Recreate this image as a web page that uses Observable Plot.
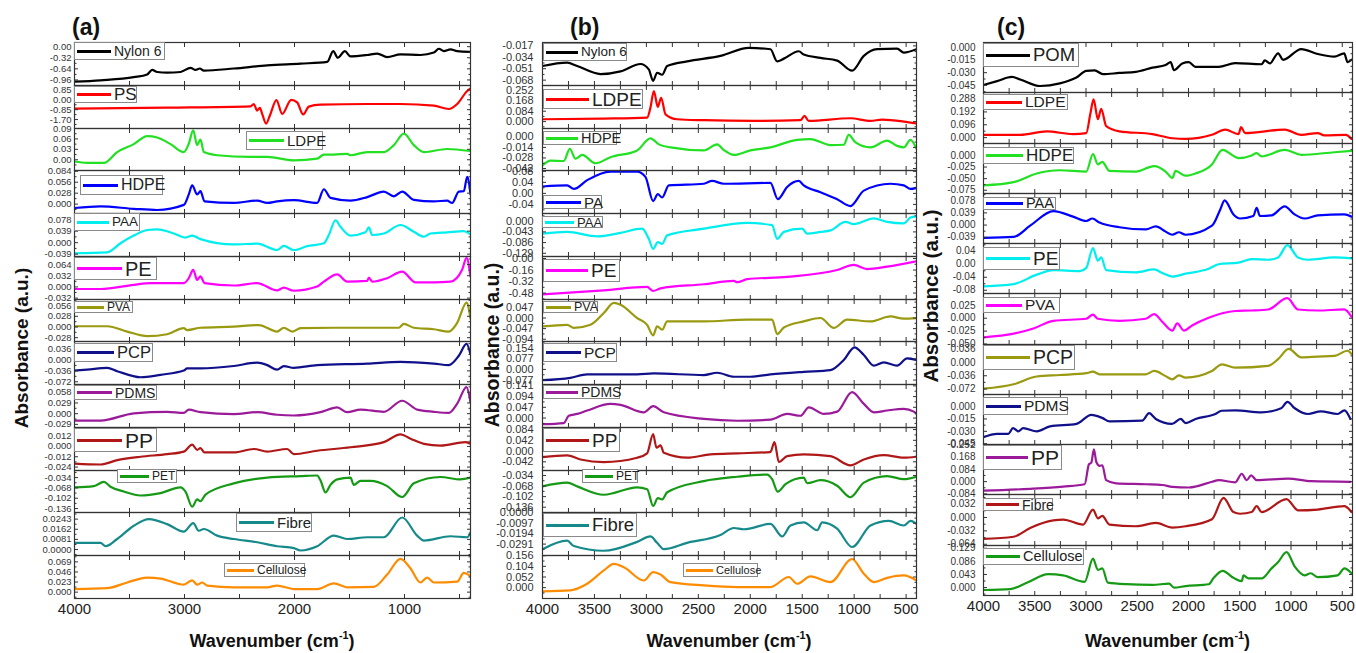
<!DOCTYPE html>
<html><head><meta charset="utf-8">
<script src="https://cdn.jsdelivr.net/npm/d3@7"></script>
<script src="https://cdn.jsdelivr.net/npm/@observablehq/plot@0.6"></script>
<style>
html,body{margin:0;padding:0;background:#fff;}
#fig{position:relative;width:1356px;height:653px;overflow:hidden;font-family:"Liberation Sans",Arial,sans-serif;background:#fff;}
#fig svg{position:absolute;overflow:visible;background:transparent;}
.lg{position:absolute;box-sizing:border-box;border:1px solid #8a8a8a;background:#fff;display:flex;align-items:center;padding-left:2px;gap:3px;white-space:nowrap;color:#222;line-height:1;}
.lg i{display:block;height:3px;flex:none;}
.ttl{position:absolute;font-weight:bold;color:#111;white-space:nowrap;}
.ttl sup{font-size:0.6em;vertical-align:0.7em;line-height:0;}
</style></head><body><div id="fig"></div><script>
// ---------- Panel (a) spectra: [wavenumber, absorbance] ----------
const aNylon6 = [[4000,-1.01],[3764,-0.97],[3461,-0.88],[3339,-0.80],[3294,-0.67],[3248,-0.73],[3158,-0.75],[3036,-0.73],[2945,-0.61],[2900,-0.67],[2861,-0.63],[2824,-0.69],[2552,-0.63],[2248,-0.54],[1945,-0.49],[1703,-0.44],[1648,-0.13],[1606,-0.32],[1542,-0.13],[1491,-0.28],[1339,-0.24],[1248,-0.20],[1158,-0.30],[1036,-0.22],[855,-0.24],[733,-0.17],[688,-0.06],[642,-0.13],[582,-0.08],[521,-0.13],[400,-0.15]];
const aPS = [[4000,-0.76],[3158,-0.67],[2400,-0.56],[2370,-0.36],[2339,-0.93],[2315,-0.70],[2294,-1.21],[2258,-2.05],[2224,-1.35],[2164,-0.03],[2112,-1.21],[2030,0.00],[1976,-0.22],[1921,-1.26],[1870,-0.59],[1764,-0.42],[1339,-0.36],[1036,-0.36],[733,-0.50],[597,-0.79],[521,-0.36],[430,0.76],[400,0.98]];
const aLDPE = [[4000,-0.005],[3885,-0.009],[3733,-0.009],[3612,0.022],[3461,0.045],[3339,0.068],[3248,0.064],[3127,0.045],[3006,0.022],[2961,0.046],[2921,0.085],[2885,0.042],[2855,0.058],[2824,0.022],[2703,0.013],[2400,0.008],[2248,0.008],[2006,-0.002],[1794,0.003],[1733,0.015],[1642,0.015],[1521,0.017],[1491,0.013],[1339,0.022],[1188,0.022],[1097,0.042],[1006,0.075],[915,0.042],[824,0.022],[612,0.031],[400,0.025]];
const aHDPE = [[4000,-0.010],[3764,-0.006],[3461,-0.012],[3248,-0.015],[3006,-0.002],[2961,0.025],[2930,0.048],[2885,0.025],[2855,0.033],[2818,0.007],[2552,0.003],[2339,0.009],[2248,0.003],[2158,0.007],[2006,0.010],[1794,0.003],[1733,0.038],[1673,0.016],[1491,0.009],[1339,0.018],[1188,0.032],[1097,0.020],[1021,0.032],[915,0.011],[733,0.007],[612,0.009],[567,0.003],[506,0.032],[461,0.033],[430,0.070],[400,0.025]];
const aPAA = [[4000,-0.036],[3703,-0.033],[3582,-0.002],[3461,0.024],[3339,0.043],[3248,0.045],[3097,0.031],[2991,0.017],[2930,0.024],[2855,0.012],[2552,-0.006],[2339,-0.003],[2158,-0.025],[2097,-0.011],[2006,-0.025],[1885,-0.012],[1733,-0.002],[1688,0.026],[1627,0.076],[1582,0.054],[1491,0.024],[1355,0.035],[1324,0.052],[1294,0.026],[1188,0.031],[1036,0.060],[915,0.037],[824,0.020],[764,0.031],[612,0.035],[461,0.039],[400,0.028]];
const aPE = [[4000,-0.006],[3764,-0.006],[3461,0.006],[3309,0.011],[3006,0.011],[2961,0.025],[2921,0.049],[2885,0.020],[2855,0.030],[2818,0.011],[2552,0.004],[2339,0.011],[2158,-0.010],[2097,-0.002],[2006,-0.011],[1794,0.001],[1733,0.015],[1612,0.036],[1521,0.015],[1339,0.017],[1324,0.027],[1294,0.015],[1158,0.025],[1021,0.044],[900,0.013],[733,0.013],[582,0.015],[476,0.049],[436,0.083],[400,0.030]];
const aPVA = [[4000,0.002],[3703,0.002],[3521,-0.012],[3339,-0.024],[3158,-0.019],[3006,-0.003],[2976,-0.008],[2855,-0.002],[2552,0.001],[2324,0.005],[2158,-0.012],[2097,-0.002],[2021,-0.012],[1945,-0.003],[1642,-0.002],[1339,-0.002],[1052,-0.002],[1006,0.008],[915,-0.002],[733,-0.006],[597,-0.012],[521,0.011],[436,0.064],[400,0.022]];
const aPCP = [[4000,-0.035],[3885,-0.032],[3703,-0.026],[3612,-0.037],[3400,-0.057],[3218,-0.049],[3006,-0.035],[2976,-0.028],[2855,-0.028],[2552,-0.020],[2339,-0.009],[2248,-0.017],[2158,-0.032],[2097,-0.020],[2006,-0.026],[1794,-0.017],[1339,-0.012],[1036,-0.006],[733,-0.012],[597,-0.017],[506,0.014],[436,0.053],[400,0.019]];
const aPDMS = [[4000,-0.019],[3764,-0.019],[3461,0.001],[3158,0.005],[3006,0.002],[2961,0.011],[2855,0.004],[2552,-0.001],[2339,0.004],[2158,-0.003],[2006,-0.005],[1764,0.004],[1612,0.017],[1521,0.004],[1400,0.011],[1188,0.005],[1021,0.035],[885,0.011],[733,0.005],[597,0.002],[521,0.027],[436,0.072],[400,0.031]];
const aPP = [[4000,-0.020],[3764,-0.021],[3612,-0.016],[3400,-0.012],[3158,-0.009],[3006,-0.006],[2930,0.002],[2885,-0.004],[2855,-0.002],[2818,-0.007],[2552,-0.007],[2370,-0.003],[2248,-0.006],[2067,-0.003],[2006,-0.009],[1794,-0.005],[1491,-0.001],[1188,0.005],[1036,0.014],[945,0.009],[824,0.003],[673,0.001],[445,0.005],[400,0.003]];
const aPET = [[4000,-0.066],[3824,-0.062],[3733,-0.048],[3673,-0.064],[3552,-0.080],[3400,-0.093],[3218,-0.085],[3036,-0.066],[2991,-0.080],[2930,-0.130],[2885,-0.106],[2855,-0.112],[2809,-0.090],[2552,-0.053],[2248,-0.034],[1945,-0.029],[1794,-0.027],[1764,-0.043],[1718,-0.083],[1673,-0.058],[1612,-0.040],[1491,-0.034],[1461,-0.058],[1400,-0.045],[1309,-0.045],[1158,-0.062],[1021,-0.098],[915,-0.053],[673,-0.032],[491,-0.040],[400,-0.034]];
const aFibre = [[4000,0.0053],[3764,0.0053],[3718,0.0026],[3612,0.0084],[3461,0.019],[3324,0.0243],[3158,0.0203],[3006,0.0143],[2921,0.0211],[2870,0.0150],[2824,0.0164],[2703,0.0111],[2552,0.0084],[2339,0.0058],[2158,0.0026],[2006,0.0011],[1945,-0.0008],[1794,0.0026],[1642,0.0111],[1521,0.0084],[1339,0.0098],[1188,0.0098],[1021,0.0256],[885,0.0111],[824,0.0071],[582,0.0106],[430,0.0098],[400,0.0137]];
const aCellulose = [[4000,0.007],[3703,0.009],[3521,0.022],[3339,0.033],[3218,0.031],[3006,0.017],[2930,0.027],[2885,0.017],[2839,0.022],[2794,0.015],[2552,0.011],[2248,0.011],[2158,0.015],[2006,0.007],[1794,0.007],[1642,0.020],[1521,0.011],[1279,0.012],[1158,0.040],[1036,0.076],[945,0.054],[855,0.022],[794,0.033],[733,0.022],[521,0.024],[461,0.044],[400,0.036]];

// ---------- Panel (b) spectra ----------
const bNylon6 = [[4000,-0.047],[3763,-0.042],[3666,-0.047],[3442,-0.059],[3249,-0.055],[3057,-0.044],[2977,-0.052],[2935,-0.069],[2897,-0.057],[2848,-0.060],[2800,-0.047],[2608,-0.040],[2287,-0.032],[2014,-0.020],[1806,-0.022],[1741,-0.040],[1677,-0.036],[1533,-0.025],[1485,-0.030],[1324,-0.035],[1164,-0.039],[1020,-0.054],[907,-0.032],[779,-0.022],[587,-0.021],[522,-0.027],[400,-0.022]];
const bLDPE = [[4000,0.019],[3410,0.024],[2993,0.032],[2961,0.113],[2928,0.247],[2890,0.118],[2858,0.193],[2816,0.059],[2704,0.019],[2447,0.011],[1966,0.005],[1517,0.011],[1478,0.046],[1437,0.005],[1036,0.027],[843,0.005],[731,0.016],[522,0.000],[400,-0.016]];
const bHDPE = [[4000,-0.038],[3923,-0.0315],[3795,-0.032],[3737,-0.016],[3682,-0.029],[3618,-0.024],[3490,-0.035],[3346,-0.027],[3089,-0.018],[2961,-0.002],[2880,-0.010],[2768,-0.014],[2447,-0.018],[2319,-0.010],[2255,-0.0175],[2158,-0.024],[1998,-0.018],[1806,-0.014],[1549,-0.004],[1421,-0.003],[1228,-0.011],[1100,-0.0105],[1052,0.0026],[987,-0.0074],[843,-0.014],[683,-0.005],[587,-0.012],[522,-0.014],[458,-0.004],[400,-0.016]];
const bPA = [[4000,0.025],[3763,0.029],[3698,0.016],[3570,0.048],[3346,0.079],[3089,0.079],[3009,0.060],[2935,-0.028],[2890,-0.003],[2848,-0.015],[2784,0.029],[2447,0.035],[2367,0.045],[2255,0.035],[1806,0.038],[1735,-0.021],[1645,0.023],[1533,0.045],[1485,0.029],[1324,0.004],[1164,-0.021],[1036,-0.046],[907,0.010],[651,0.035],[522,0.029],[458,0.016],[400,0.020]];
const bPAA = [[4000,-0.050],[3763,-0.043],[3474,-0.061],[3249,-0.047],[3041,-0.030],[2977,-0.071],[2935,-0.111],[2890,-0.084],[2848,-0.091],[2800,-0.057],[2447,-0.030],[2030,-0.007],[1790,-0.016],[1741,-0.071],[1677,-0.043],[1501,-0.030],[1453,-0.050],[1324,-0.043],[1228,-0.037],[1084,-0.003],[1004,-0.012],[811,0.011],[683,-0.003],[522,-0.009],[458,0.015],[400,0.020]];
const bPE = [[4000,-0.498],[3410,-0.442],[2993,-0.395],[2935,-0.451],[2864,-0.414],[2447,-0.357],[2158,-0.310],[2126,-0.329],[2030,-0.287],[1645,-0.254],[1164,-0.160],[1004,-0.089],[875,-0.146],[683,-0.113],[400,-0.038]];
const bPVA = [[4000,-0.037],[3763,-0.030],[3698,-0.044],[3538,-0.030],[3410,0.022],[3313,0.067],[3249,0.059],[3089,0.000],[2993,-0.030],[2935,-0.077],[2897,-0.037],[2848,-0.052],[2800,-0.015],[2447,-0.015],[2030,-0.007],[1790,-0.007],[1741,-0.071],[1677,-0.042],[1485,-0.015],[1324,0.000],[1196,-0.044],[1068,-0.007],[843,-0.015],[651,0.007],[522,-0.003],[400,0.000]];
const bPCP = [[4000,-0.078],[3731,-0.061],[3570,-0.036],[3089,-0.036],[2928,-0.029],[2447,-0.041],[2319,-0.024],[2158,-0.053],[1998,-0.053],[1806,-0.036],[1485,-0.017],[1228,-0.005],[1100,0.068],[997,0.160],[907,0.104],[811,0.027],[715,0.051],[587,0.027],[490,0.080],[400,0.068]];
const bPDMS = [[4000,-0.027],[3795,-0.022],[3747,0.010],[3666,0.018],[3570,0.033],[3346,0.062],[3249,0.058],[3025,0.025],[2935,0.052],[2832,0.025],[2447,-0.004],[2126,-0.012],[1806,-0.007],[1645,0.018],[1517,0.010],[1437,0.047],[1292,0.018],[1164,0.028],[1020,0.114],[907,0.062],[811,0.025],[683,0.033],[522,0.040],[426,0.028],[400,0.018]];
const bPP = [[4000,-0.024],[3763,-0.017],[3634,-0.033],[3410,-0.043],[3089,-0.026],[2993,-0.009],[2935,0.066],[2903,0.013],[2864,0.022],[2832,-0.007],[2608,-0.026],[2383,-0.013],[2126,-0.009],[1806,-0.004],[1767,0.035],[1725,-0.043],[1645,-0.020],[1485,-0.013],[1228,-0.020],[1036,-0.056],[907,-0.033],[715,-0.016],[522,-0.026],[400,-0.022]];
const bPET = [[4000,-0.069],[3763,-0.057],[3666,-0.069],[3410,-0.096],[3089,-0.072],[2993,-0.078],[2935,-0.132],[2890,-0.107],[2848,-0.111],[2800,-0.088],[2447,-0.052],[2126,-0.038],[1838,-0.031],[1790,-0.046],[1735,-0.086],[1661,-0.062],[1485,-0.041],[1453,-0.059],[1324,-0.049],[1164,-0.067],[1036,-0.104],[907,-0.057],[683,-0.036],[522,-0.046],[400,-0.038]];
const bFibre = [[4000,-0.0338],[3763,-0.0259],[3698,-0.0309],[3410,-0.0353],[3089,-0.0270],[2961,-0.0220],[2897,-0.0279],[2832,-0.0338],[2608,-0.0279],[2287,-0.0206],[2158,-0.0141],[2062,-0.0153],[1806,-0.0103],[1693,-0.0220],[1613,-0.0118],[1485,-0.0088],[1356,-0.0162],[1308,-0.0088],[1164,-0.0147],[1020,-0.0318],[843,-0.0118],[667,-0.0074],[522,-0.0118],[458,-0.0074],[400,-0.0103]];
const bCellulose = [[4000,-0.018],[3731,-0.013],[3570,0.019],[3410,0.084],[3313,0.116],[3217,0.100],[3025,0.035],[2935,0.076],[2864,0.064],[2768,0.027],[2447,0.011],[2126,0.003],[1806,0.003],[1629,0.052],[1549,0.019],[1421,0.055],[1228,0.027],[1020,0.140],[907,0.068],[811,0.027],[683,0.048],[522,0.060],[400,0.035]];

// ---------- Panel (c) spectra ----------
const cPOM = [[4000,-0.0446],[3868,-0.040],[3723,-0.035],[3642,-0.038],[3448,-0.0458],[3255,-0.0427],[3094,-0.0357],[2997,-0.0279],[2916,-0.0272],[2835,-0.0318],[2674,-0.0303],[2513,-0.029],[2352,-0.024],[2223,-0.021],[2174,-0.0175],[2142,-0.027],[2061,-0.019],[1997,-0.0175],[1932,-0.023],[1706,-0.023],[1545,-0.0186],[1287,-0.020],[1255,-0.0155],[1206,-0.019],[1126,-0.007],[1077,-0.0147],[900,-0.002],[739,-0.0078],[577,-0.0109],[481,-0.007],[448,-0.0175],[410,-0.0147]];
const cLDPE = [[4000,0.021],[3642,0.021],[3384,0.047],[3126,0.026],[2997,0.034],[2958,0.176],[2926,0.285],[2884,0.138],[2852,0.215],[2803,0.086],[2674,0.047],[2352,0.026],[2158,-0.005],[2029,-0.010],[1771,0.021],[1642,0.060],[1513,0.026],[1487,0.078],[1448,0.034],[1061,0.060],[900,0.021],[739,0.034],[674,0.016],[465,0.021],[410,-0.010]];
const cHDPE = [[4000,-0.0646],[3706,-0.0576],[3481,-0.0389],[3255,-0.0319],[2997,-0.0347],[2932,0.0028],[2884,-0.0194],[2842,-0.0139],[2771,-0.0333],[2513,-0.0347],[2335,-0.0229],[2223,-0.0347],[2158,-0.0486],[2126,-0.0333],[2029,-0.0437],[1932,-0.0389],[1771,-0.0194],[1668,0.0118],[1513,-0.0056],[1384,0.000],[1335,0.0049],[1287,-0.002],[1061,0.0118],[900,0.0014],[577,0.0069],[410,0.0097]];
const cPAA = [[4000,-0.041],[3706,-0.038],[3545,-0.002],[3319,0.0445],[3126,0.027],[2997,0.013],[2939,0.021],[2868,0.008],[2674,-0.007],[2416,-0.014],[2319,-0.004],[2223,-0.021],[2158,-0.031],[2094,-0.023],[2029,-0.031],[1771,-0.002],[1690,0.050],[1648,0.079],[1561,0.034],[1497,0.021],[1368,0.029],[1335,0.055],[1303,0.029],[1190,0.031],[1061,0.060],[965,0.034],[868,0.021],[739,0.031],[481,0.034],[410,0.027]];
const cPE = [[4000,-0.068],[3706,-0.061],[3481,-0.032],[3319,-0.018],[3061,-0.021],[2997,-0.011],[2932,0.050],[2884,0.011],[2852,0.021],[2803,-0.018],[2513,-0.025],[2335,-0.016],[2255,-0.027],[2158,-0.038],[2029,-0.029],[1803,-0.014],[1706,0.000],[1513,0.005],[1384,0.016],[1223,0.014],[1126,0.021],[1035,0.059],[932,0.021],[835,0.014],[577,0.021],[410,0.018]];
const cPVA = [[4000,-0.037],[3706,-0.030],[3513,-0.020],[3319,-0.005],[2997,-0.001],[2932,0.007],[2884,-0.001],[2674,-0.005],[2416,-0.001],[2335,0.008],[2255,-0.007],[2158,-0.024],[2110,-0.010],[2045,-0.024],[1965,-0.014],[1803,0.001],[1545,0.014],[1384,0.015],[1223,0.017],[1035,0.039],[932,0.017],[739,0.015],[481,0.017],[410,0.003]];
const cPCP = [[4000,-0.071],[3706,-0.059],[3481,-0.038],[3255,-0.034],[2997,-0.029],[2932,-0.025],[2868,-0.032],[2416,-0.032],[2335,-0.023],[2223,-0.037],[2158,-0.046],[2094,-0.035],[2029,-0.041],[1771,-0.023],[1674,-0.005],[1545,-0.014],[1223,-0.009],[1126,0.009],[1023,0.037],[900,0.014],[739,0.016],[577,0.018],[448,0.032],[410,0.023]];
const cPDMS = [[4000,-0.037],[3867,-0.033],[3758,-0.033],[3712,-0.026],[3661,-0.030],[3613,-0.026],[3480,-0.030],[3351,-0.024],[3093,-0.021],[2948,-0.010],[2838,-0.014],[2771,-0.018],[2451,-0.017],[2384,-0.008],[2319,-0.015],[2161,-0.021],[2076,-0.015],[2028,-0.020],[1931,-0.015],[1738,-0.009],[1677,-0.005],[1544,-0.0045],[1289,-0.007],[1096,-0.002],[1035,0.0057],[963,-0.002],[834,-0.009],[710,-0.0057],[545,-0.009],[479,-0.0045],[420,-0.015]];
const cPP = [[4000,-0.062],[3545,-0.049],[3223,-0.034],[3013,-0.018],[2971,0.119],[2948,0.130],[2923,0.221],[2899,0.134],[2867,0.108],[2841,0.112],[2803,0.010],[2706,-0.012],[2415,-0.018],[2255,-0.023],[2158,-0.036],[1996,-0.040],[1771,-0.001],[1706,0.010],[1544,-0.005],[1480,0.054],[1432,0.010],[1389,0.043],[1335,0.010],[1028,0.021],[802,0.003],[420,-0.001]];
const cFibre = [[4000,-0.051],[3707,-0.046],[3545,-0.025],[3319,-0.007],[3223,-0.005],[3029,-0.017],[2932,0.019],[2884,-0.002],[2841,0.004],[2771,-0.017],[2512,-0.021],[2319,-0.013],[2158,-0.024],[2028,-0.021],[1771,-0.004],[1658,0.047],[1562,0.013],[1496,0.009],[1383,0.013],[1335,0.027],[1287,0.013],[1044,0.044],[931,0.017],[738,0.019],[479,0.027],[410,0.013]];
const cCellulose = [[4000,-0.008],[3739,-0.005],[3577,0.016],[3368,0.044],[3223,0.040],[3013,0.019],[2932,0.095],[2884,0.058],[2841,0.063],[2787,0.016],[2609,0.011],[2351,0.009],[2190,0.013],[2141,0.000],[2028,0.005],[1802,0.011],[1754,0.032],[1667,0.055],[1562,0.032],[1480,0.021],[1464,0.040],[1415,0.030],[1287,0.030],[1190,0.063],[1125,0.084],[1044,0.116],[963,0.069],[866,0.040],[808,0.047],[738,0.034],[545,0.040],[479,0.063],[410,0.047]];

// ---------- names, y tick labels, y domains ----------
const aNames = ["Nylon 6","PS","LDPE","HDPE","PAA","PE","PVA","PCP","PDMS","PP","PET","Fibre","Cellulose"];
const bNames = ["Nylon 6","LDPE","HDPE","PA","PAA","PE","PVA","PCP","PDMS","PP","PET","Fibre","Cellulose"];
const cNames = ["POM","LDPE","HDPE","PAA","PE","PVA","PCP","PDMS","PP","Fibre","Cellulose"];

const aTickLabels = [["0.00","-0.32","-0.64","-0.96"],["0.85","0.00","-0.85","-1.70"],["0.09","0.06","0.03","0.00"],["0.084","0.056","0.028","0.000"],["0.078","0.039","0.000","-0.039"],["0.064","0.032","0.000","-0.032"],["0.056","0.028","0.000","-0.028"],["0.036","0.000","-0.036","-0.072"],["0.058","0.029","0.000","-0.029"],["0.012","0.000","-0.012","-0.024"],["-0.034","-0.068","-0.102","-0.136"],["0.0243","0.0162","0.0081","0.0000"],["0.069","0.046","0.023","0.000"]];
const bTickLabels = [["-0.017","-0.034","-0.051","-0.068"],["0.252","0.168","0.084","0.000"],["0.000","-0.014","-0.028","-0.042"],["0.08","0.04","0.00","-0.04"],["0.000","-0.043","-0.086","-0.129"],["0.00","-0.16","-0.32","-0.48"],["0.047","0.000","-0.047","-0.094"],["0.154","0.077","0.000","-0.077"],["0.141","0.094","0.047","0.000"],["0.084","0.042","0.000","-0.042"],["-0.034","-0.068","-0.102","-0.136"],["0.0000","-0.0097","-0.0194","-0.0291"],["0.156","0.104","0.052","0.000"]];
const cTickLabels = [["0.000","-0.015","-0.030","-0.045"],["0.288","0.192","0.096","0.000"],["0.000","-0.025","-0.050","-0.075"],["0.078","0.039","0.000","-0.039"],["0.04","0.00","-0.04","-0.08"],["0.025","0.000","-0.025","-0.050"],["0.036","0.000","-0.036","-0.072"],["0.000","-0.015","-0.030","-0.045"],["0.252","0.168","0.084","0.000","-0.084"],["0.032","0.000","-0.032","-0.064"],["0.129","0.086","0.043","0.000"]];

const aDomains = [[-1.12,0.12],[-2.47,1.23],[-0.031,0.090],[-0.024,0.086],[-0.047,0.099],[-0.036,0.087],[-0.038,0.072],[-0.081,0.061],[-0.0375,0.079],[-0.028,0.022],[-0.149,-0.0106],[-0.0048,0.0296],[-0.0145,0.0835]];
const bDomains = [[-0.076,-0.012],[-0.056,0.292],[-0.0446,0.011],[-0.073,0.083],[-0.142,0.031],[-0.569,0.028],[-0.104,0.082],[-0.109,0.202],[-0.0415,0.147],[-0.076,0.092],[-0.153,-0.018],[-0.0397,0.0003],[-0.053,0.157]];
const cDomains = [[-0.0535,0.0058],[-0.044,0.337],[-0.082,0.0257],[-0.059,0.101],[-0.090,0.064],[-0.051,0.048],[-0.087,0.049],[-0.046,0.0147],[-0.088,0.254],[-0.067,0.055],[-0.026,0.138]];

// x ticks (wavenumber)
const aXTicks = [4000,3500,3000,2500,2000,1500,1000,500];
const aXLabels = [4000,3000,2000,1000];
const bcXTicks = [4000,3750,3500,3250,3000,2750,2500,2250,2000,1750,1500,1250,1000,750,500];
const bcXLabels = [4000,3500,3000,2500,2000,1500,1000,500];

// ---------- styles & layout (not data) ----------
const colA = ["#000000","#ff0000","#22e022","#0000ff","#00eeee","#ff00ff","#9a9a10","#10108a","#9a1a9a","#b01818","#169a16","#168a8a","#ff8c00"];
const colB = ["#000000","#ff0000","#22e022","#0000ff","#00eeee","#ff00ff","#9a9a10","#10108a","#9a1a9a","#b01818","#169a16","#168a8a","#ff8c00"];
const colC = ["#000000","#ff0000","#22e022","#0000ff","#00eeee","#ff00ff","#9a9a10","#10108a","#9a1a9a","#b01818","#169a16"];
// legend boxes: left, top, width, height, sample line length, font size
const legA = [[74,42,91,18,34,14],[74,86,63,17,34,17],[246,131,77,19,35,15],[80,175,83,20,35,16],[74,213,66,18,32,13.5],[74,257,83,23,45,20],[74,301,59,12,27,12],[74,343,79,19,37,16.5],[74,385,83,15,35,14],[74,428,83,24,45,21],[117,469,60,14,29,12],[236,513,76,19,35,15],[224,563,81,14,27,12]];
const legB = [[543,43,84,18,32,13.5],[543,89,100,20,43,19],[543,131,74,14,32,14.5],[543,195,59,14,35,15],[542,216,61,12,29,13],[543,259,77,23,42,19],[543,301,55,12,25,12.5],[543,343,74,19,35,15.5],[543,385,77,14,32,14],[543,428,77,24,43,19],[582,469,56,14,28,12],[543,513,94,24,43,18.5],[683,563,75,14,27,11]];
const legC = [[983,43,96,24,44,18.5],[983,94,85,16,36,15.5],[983,147,91,17,37,17],[983,197,73,13,37,14.5],[983,247,77,23,44,19],[983,297,77,16,36,15.5],[983,345,92,25,44,19.5],[983,397,85,18,35,15.5],[983,445,79,25,42,21],[983,498,70,13,33,14],[983,548,101,17,34,14.5]];

const panels = [
  {key:"(a)", left:74, w:396, top:42, bottom:598, pad:3, yfs:9.5, names:aNames, series:[aNylon6,aPS,aLDPE,aHDPE,aPAA,aPE,aPVA,aPCP,aPDMS,aPP,aPET,aFibre,aCellulose], ticks:aTickLabels, domains:aDomains, colors:colA, legend:legA, xt:aXTicks, xl:aXLabels, letterX:72, yTitle:[22,348,19]},
  {key:"(b)", left:542, w:374, top:42, bottom:598, pad:9, yfs:11, names:bNames, series:[bNylon6,bLDPE,bHDPE,bPA,bPAA,bPE,bPVA,bPCP,bPDMS,bPP,bPET,bFibre,bCellulose], ticks:bTickLabels, domains:bDomains, colors:colB, legend:legB, xt:bcXTicks, xl:bcXLabels, letterX:570, yTitle:[492,345,19.5]},
  {key:"(c)", left:983, w:369, top:42, bottom:595, pad:8, yfs:10, names:cNames, series:[cPOM,cLDPE,cHDPE,cPAA,cPE,cPVA,cPCP,cPDMS,cPP,cFibre,cCellulose], ticks:cTickLabels, domains:cDomains, colors:colC, legend:legC, xt:bcXTicks, xl:bcXLabels, letterX:997, yTitle:[931,296,20.5]}
];

const fig = document.getElementById("fig");
const ML = 70, MR = 6, XB = 34;
const ink = "#333";

for (const P of panels) {
  const n = P.series.length;
  const rh = (P.bottom - P.top) / n;
  for (let i = 0; i < n; i++) {
    const t = Math.round(P.top + i * rh), b = Math.round(P.top + (i + 1) * rh);
    const H = b - t, last = i === n - 1;
    const labels = P.ticks[i];
    const vals = labels.map(Number);
    const lab = new Map(vals.map((v, k) => [v, labels[k]]));
    const dom = P.domains[i];
    const step = Math.abs(vals[0] - vals[1]);
    const lo = Math.min(...vals), hi = Math.max(...vals);
    const minor = [];
    for (let m = lo - step / 2; m <= hi + step / 2 + 1e-12; m += step) if (m > dom[0] && m < dom[1]) minor.push(m);
    const marks = [
      Plot.line(P.series[i], {x: d => d[0], y: d => d[1], stroke: P.colors[i], strokeWidth: 2.2, curve: "monotone-x", clip: true}),
      Plot.frame({stroke: ink, strokeWidth: 1.2}),
      Plot.axisY({ticks: vals, tickSize: 0, tickPadding: P.pad, tickFormat: d => lab.get(d), label: null, fill: ink, fontSize: P.yfs}),
      Plot.axisY({ticks: vals, tickSize: 4, dx: 4, fill: "none", stroke: ink, label: null}),
      Plot.axisY({ticks: minor, tickSize: 2.5, dx: 2.5, fill: "none", stroke: ink, label: null}),
      Plot.axisY({anchor: "right", ticks: vals, tickSize: 4, dx: -4, fill: "none", stroke: ink, label: null}),
      Plot.axisY({anchor: "right", ticks: minor, tickSize: 2.5, dx: -2.5, fill: "none", stroke: ink, label: null}),
      Plot.axisX({anchor: "bottom", ticks: P.xt, tickSize: 4, dy: -4, fill: "none", stroke: ink, label: null}),
      Plot.axisX({anchor: "top", ticks: P.xt, tickSize: 4, dy: 4, fill: "none", stroke: ink, label: null})
    ];
    if (last) marks.push(Plot.axisX({anchor: "bottom", ticks: P.xl, tickSize: 0, tickPadding: 5, tickFormat: d => String(d), label: null, fill: "#222", fontSize: 15}));
    const svg = Plot.plot({
      width: P.w + ML + MR,
      height: H + (last ? XB : 0),
      marginLeft: ML, marginRight: MR, marginTop: 0, marginBottom: last ? XB : 0,
      x: {domain: [4000, 400], label: null},
      y: {domain: dom, label: null},
      style: {fontFamily: "'Liberation Sans', Arial, sans-serif", background: "transparent", overflow: "visible"},
      marks
    });
    svg.style.left = (P.left - ML) + "px";
    svg.style.top = t + "px";
    fig.appendChild(svg);
  }
  // legends
  P.legend.forEach((L, i) => {
    const [x, y, w, h, ll, fs] = L;
    const d = document.createElement("div");
    d.className = "lg";
    d.style.cssText = `left:${x}px;top:${y}px;width:${w}px;height:${h}px;font-size:${fs}px;`;
    const ln = document.createElement("i");
    ln.style.width = ll + "px";
    ln.style.background = P.colors[i];
    const tx = document.createElement("span");
    tx.textContent = P.names[i];
    d.appendChild(ln); d.appendChild(tx);
    fig.appendChild(d);
  });
  // panel letter
  const lt = document.createElement("div");
  lt.className = "ttl";
  lt.style.cssText = `left:${P.letterX}px;top:14px;font-size:23px;`;
  lt.textContent = P.key;
  fig.appendChild(lt);
  // x title
  const xt = document.createElement("div");
  xt.className = "ttl";
  xt.style.cssText = `left:${P.left + P.w / 2}px;top:641px;font-size:18px;transform:translate(-50%,-50%);`;
  xt.innerHTML = "Wavenumber (cm<sup>-1</sup>)";
  fig.appendChild(xt);
  // y title
  const yt = document.createElement("div");
  yt.className = "ttl";
  yt.style.cssText = `left:${P.yTitle[0]}px;top:${P.yTitle[1]}px;font-size:${P.yTitle[2]}px;transform:translate(-50%,-50%) rotate(-90deg);`;
  yt.textContent = "Absorbance (a.u.)";
  fig.appendChild(yt);
}
</script></body></html>
